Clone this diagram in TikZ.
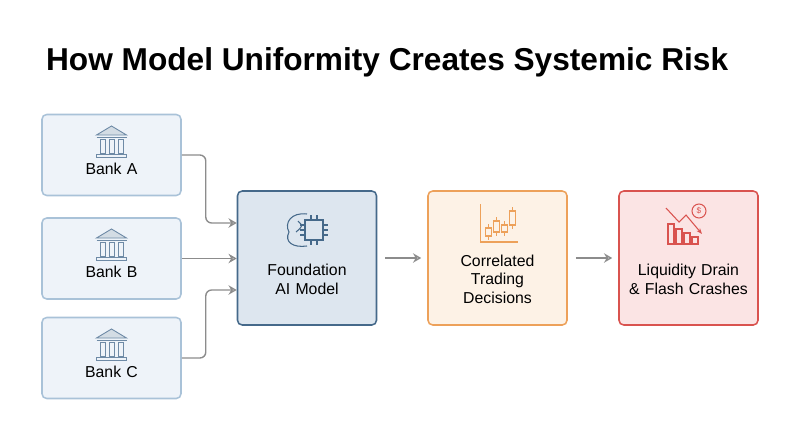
\documentclass[tikz,border=0pt]{standalone}
\usepackage{fontspec}
\setmainfont{Liberation Sans}
\usetikzlibrary{positioning,arrows.meta}
\definecolor{bankfill}{HTML}{EEF3F9}
\definecolor{bankdraw}{HTML}{A9C2D8}
\definecolor{bankicon}{HTML}{6E8AA6}
\definecolor{aifill}{HTML}{DDE6EF}
\definecolor{aidraw}{HTML}{45698A}
\definecolor{trfill}{HTML}{FDF2E6}
\definecolor{trdraw}{HTML}{EDA15A}
\definecolor{lqfill}{HTML}{FBE4E4}
\definecolor{lqdraw}{HTML}{D9534F}
\definecolor{arr}{HTML}{8C8C8C}
\tikzset{
  box/.style={draw, rounded corners=4pt, line width=1.3pt, minimum width=139*0.03cm, text width=120*0.03cm, align=center, font=\fontsize{13.5}{16}\selectfont},
  bank/.style={box, fill=bankfill, draw=bankdraw, minimum height=81*0.03cm},
  stage/.style={box, minimum height=134*0.03cm},
  flow/.style={draw=arr, line width=1.2pt, rounded corners=5pt, -{Stealth[length=7pt,width=8pt,open]}},
}
\newcommand{\bankicon}[1]{%
  \begin{scope}[shift={(#1)}, draw=bankicon, line width=0.8pt]
    \draw[fill=bankicon!30] (-15,-8) -- (0,-17) -- (15,-8) -- cycle;
    \draw (-15,-6) -- (15,-6);
    \foreach \bx in {-9,0,9} \draw (\bx-2.5,-4) rectangle (\bx+2.5,10);
    \draw (-15,11) rectangle (15,14);
  \end{scope}}
\begin{document}
\begin{tikzpicture}[x=0.03cm, y=-0.03cm]
\useasboundingbox (0,0) rectangle (800,447);
\node[anchor=west, font=\bfseries\fontsize{27}{30}\selectfont] (title) at (42,62) {How Model Uniformity Creates Systemic Risk};
% banks
\node[bank] (bankA) at (111.5,155) {\\[17pt]Bank A};
\node[bank] (bankB) at (111.5,258.5) {\\[17pt]Bank B};
\node[bank] (bankC) at (111.5,358) {\\[17pt]Bank C};
\bankicon{111.5,143}
\bankicon{111.5,246}
\bankicon{111.5,346}
% stages
\node[stage, fill=aifill, draw=aidraw] (model) at (307,258) {\\[30pt]Foundation\\AI Model};
\node[stage, fill=trfill, draw=trdraw] (trade) at (497.5,258) {\\[30pt]Correlated\\Trading\\Decisions};
\node[stage, fill=lqfill, draw=lqdraw] (drain) at (688.5,258) {\\[30pt]Liquidity Drain\\\& Flash Crashes};
% brain chip icon
\begin{scope}[shift={(307,230)}, draw=aidraw, line width=0.9pt]
  \draw (0,-16) .. controls (-16,-18) and (-23,-7) .. (-18,2) .. controls (-23,12) and (-14,18) .. (0,16);
  \draw (-9,-9) .. controls (-4,-4) .. (-11,2);
  \draw[fill=aifill] (-2,-10) rectangle (16,10);
  \foreach \cy in {-5,0,5} {\draw (16,\cy) -- (21,\cy); \draw (-2,\cy) -- (-7,\cy);}
  \foreach \cx in {4,10} {\draw (\cx,-10) -- (\cx,-15); \draw (\cx,10) -- (\cx,15);}
\end{scope}
% candlestick icon
\begin{scope}[shift={(497.5,224)}, draw=trdraw, line width=0.9pt]
  \draw (-17,-20) -- (-17,18) -- (20,18);
  \foreach \cx/\ct/\cb in {-9/4/12, -1/-3/8, 7/1/8, 15/-13/1} {
    \draw (\cx,\ct-4) -- (\cx,\cb+4);
    \draw[fill=trfill] (\cx-3,\ct) rectangle (\cx+3,\cb);}
\end{scope}
% falling chart icon
\begin{scope}[shift={(686,226)}, draw=lqdraw, line width=0.9pt]
  \foreach \cx/\ch in {-15/20, -7/15, 1/11, 9/7} \draw[fill=lqfill] (\cx-3,18) rectangle (\cx+3,18-\ch);
  \draw[-{Stealth[length=5pt]}] (-20,-18) -- (-7,-4) -- (0,-11) -- (16,8);
  \draw (13,-15) circle (7);
  \node[text=lqdraw, font=\fontsize{7}{7}\selectfont] at (13,-15) {\$};
\end{scope}
% connectors
\draw[flow] (bankA.east) -| ++(24,68) -- (model.west |- 0,223);
\draw[flow] (bankB.east) -- (model.west |- bankB.east);
\draw[flow] (bankC.east) -| ++(24,-68) -- (model.west |- 0,290);
\draw[flow] (model.east) ++(8,0) -- ([xshift=-6*0.03cm]trade.west);
\draw[flow] (trade.east) ++(8,0) -- ([xshift=-6*0.03cm]drain.west);
\end{tikzpicture}
\end{document}
